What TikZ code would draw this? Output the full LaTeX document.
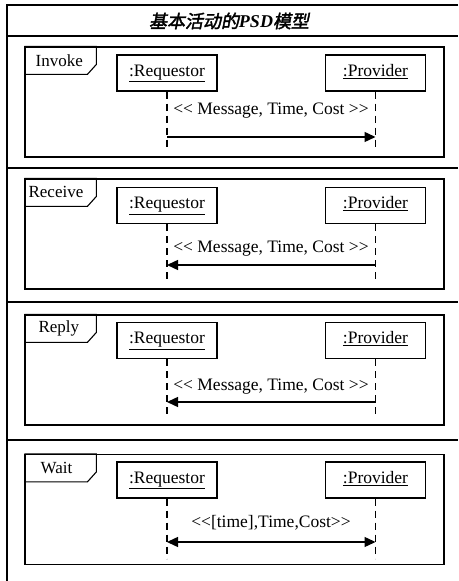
\documentclass[tikz,border=0pt]{standalone}
\usepackage{fontspec}
\setmainfont{Liberation Serif}
\newfontfamily\cjk[FakeSlant=0.2,FakeBold=2]{Noto Sans CJK SC}
\usetikzlibrary{arrows.meta}

\begin{document}
\begin{tikzpicture}[x=1pt, y=1pt,
  panel/.style  = {rectangle, draw, line width=1.2pt, minimum width=419pt,
                   minimum height=110pt, inner sep=0pt},
  actor/.style  = {rectangle, draw, line width=1.1pt, minimum width=100pt,
                   minimum height=36pt, inner sep=2pt, text height=12pt,
                   text depth=5pt, font=\fontsize{17.5}{20}\selectfont},
  tab/.style    = {line width=1.1pt},
  tabtxt/.style = {anchor=west, inner sep=0pt, font=\fontsize{17}{20}\selectfont},
  life/.style   = {line width=1.1pt, dash pattern=on 7pt off 5pt},
  msg/.style    = {-{Triangle[length=11pt,width=10pt]}, line width=1.4pt},
  both/.style   = {{Triangle[length=11pt,width=10pt]}-{Triangle[length=11pt,width=10pt]},
                   line width=1.4pt},
  lbl/.style    = {inner sep=1pt, font=\fontsize{17.5}{20}\selectfont},
  sep/.style    = {line width=1.1pt},
]
  \useasboundingbox (0,0) rectangle (458,581);

  % outer frame and title
  \draw[sep] (458,576) -- (7,576) -- (7,0);
  \node[font=\fontsize{18}{20}\selectfont] (title) at (229,560)
       {{\cjk 基本活动的}\textbf{\textit{PSD}}{\cjk 模型}};
  \draw[sep] (7,545) -- (458,545);
  \draw[sep] (7,413) -- (458,413);
  \draw[sep] (7,279) -- (458,279);
  \draw[sep] (7,141) -- (458,141);

  % Invoke
  \node[panel] (f1) at (234.5,479) {};
  \draw[tab] (f1.north west) -- ++(72,0) -- ++(0,-18) -- ++(-9,-10) -- ++(-63,0);
  \node[tabtxt] (t1) at ([xshift=11pt,yshift=-14pt]f1.north west) {Invoke};
  \node[actor] (r1) at (167,508)   {\underline{:Requestor}};
  \node[actor] (p1) at (375.5,508) {\underline{:Provider}};
  \draw[life] (r1.south) -- ++(0,-57);
  \draw[life] (p1.south) -- ++(0,-57);
  \node[lbl] (l1) at (271,470) {{<}{<} Message, Time, Cost {>}{>}};
  \coordinate (y1) at (0,444);
  \draw[msg] (r1.south |- y1) -- (p1.south |- y1);

  % Receive
  \node[panel] (f2) at (234.5,347) {};
  \draw[tab] (f2.north west) -- ++(72,0) -- ++(0,-18) -- ++(-9,-10) -- ++(-63,0);
  \node[tabtxt] (t2) at ([xshift=4pt,yshift=-14pt]f2.north west) {Receive};
  \node[actor] (r2) at (167,375.5)   {\underline{:Requestor}};
  \node[actor] (p2) at (375.5,375.5) {\underline{:Provider}};
  \draw[life] (r2.south) -- ++(0,-56);
  \draw[life] (p2.south) -- ++(0,-56);
  \node[lbl] (l2) at (271,332) {{<}{<} Message, Time, Cost {>}{>}};
  \coordinate (y2) at (0,316);
  \draw[msg] (p2.south |- y2) -- (r2.south |- y2);

  % Reply
  \node[panel] (f3) at (234.5,211) {};
  \draw[tab] (f3.north west) -- ++(72,0) -- ++(0,-18) -- ++(-9,-10) -- ++(-63,0);
  \node[tabtxt] (t3) at ([xshift=14pt,yshift=-14pt]f3.north west) {Reply};
  \node[actor] (r3) at (167,240.5)   {\underline{:Requestor}};
  \node[actor] (p3) at (375.5,240.5) {\underline{:Provider}};
  \draw[life] (r3.south) -- ++(0,-59);
  \draw[life] (p3.south) -- ++(0,-59);
  \node[lbl] (l3) at (271,194) {{<}{<} Message, Time, Cost {>}{>}};
  \coordinate (y3) at (0,179);
  \draw[msg] (p3.south |- y3) -- (r3.south |- y3);

  % Wait
  \node[panel] (f4) at (234.5,71.5) {};
  \draw[tab] (f4.north west) -- ++(72,0) -- ++(0,-18) -- ++(-9,-10) -- ++(-63,0);
  \node[tabtxt] (t4) at ([xshift=16pt,yshift=-14pt]f4.north west) {Wait};
  \node[actor] (r4) at (167,101)   {\underline{:Requestor}};
  \node[actor] (p4) at (375.5,101) {\underline{:Provider}};
  \draw[life] (r4.south) -- ++(0,-60);
  \draw[life] (p4.south) -- ++(0,-60);
  \node[lbl] (l4) at (271,58) {{<}{<}[time],Time,Cost{>}{>}};
  \coordinate (y4) at (0,39);
  \draw[both] (r4.south |- y4) -- (p4.south |- y4);
\end{tikzpicture}
\end{document}
